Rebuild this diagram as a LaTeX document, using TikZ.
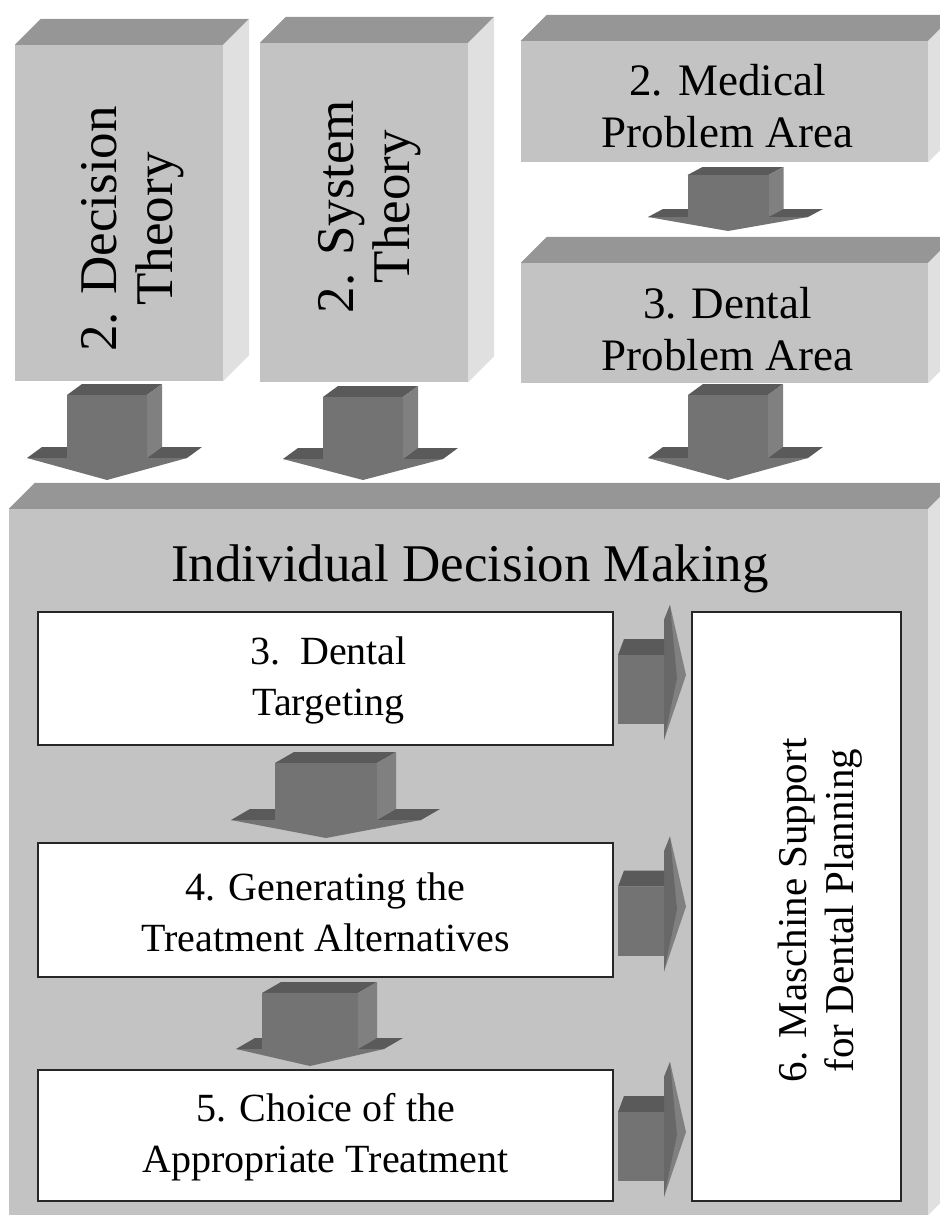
\documentclass[tikz,border=0pt]{standalone}
\usepackage{fontspec}
\setmainfont{Liberation Serif}
\definecolor{boxfront}{HTML}{C3C3C3}
\definecolor{boxtop}{HTML}{969696}
\definecolor{boxside}{HTML}{E0E0E0}
\definecolor{arrfront}{HTML}{737373}
\definecolor{arrtop}{HTML}{5A5A5A}
\definecolor{arrside}{HTML}{808080}
\newcommand\dep{26}
% side and top faces of a raised block whose front face is node #1
\newcommand\blockfaces[1]{%
  \fill[boxtop] (#1.north west) -- ++(\dep,-\dep) -- ([shift={(\dep,-\dep)}]#1.north east) -- (#1.north east) -- cycle;
  \fill[boxside] (#1.north east) -- ++(\dep,-\dep) -- ([shift={(\dep,-\dep)}]#1.south east) -- (#1.south east) -- cycle;
}
% downward block arrow: centre x, shaft top, shaft bottom, tip, shaft half width, head half width, depth x, depth y
\newcommand\blockdown[8]{%
  \fill[arrtop] ({#1-#6},#3) -- ++(#7,-#8) -- ({#1+#6+#7},{#3-#8}) -- ({#1+#6},#3) -- cycle;
  \fill[arrfront] ({#1-#6},#3) -- ({#1+#6},#3) -- (#1,#4) -- cycle;
  \fill[arrtop] ({#1-#5},#2) -- ++(#7,-#8) -- ({#1+#5+#7},{#2-#8}) -- ({#1+#5},#2) -- cycle;
  \fill[arrside] ({#1+#5},#2) -- ++(#7,-#8) -- ({#1+#5+#7},{#3-#8}) -- ({#1+#5},#3) -- cycle;
  \fill[arrfront] ({#1-#5},#2) rectangle ({#1+#5},#3);
}
% rightward block arrow, #1 = vertical offset
\newcommand\blockright[1]{%
  \begin{scope}[yshift={-(#1)*1pt}]
    \fill[arrside] (664,620) -- (670,605) -- (686,675) -- (664,740) -- cycle;
    \fill[arrfront!90!black] (664,620) -- (670,605) -- (677,678) -- (664,740) -- cycle;
    \fill[arrtop] (618,655) -- (624,639) -- (664,639) -- (664,655) -- cycle;
    \fill[arrfront] (618,655) rectangle (664,724);
  \end{scope}
}
\tikzset{
  block/.style={rectangle, fill=boxfront, inner sep=0pt, align=center, text=black},
  card/.style={rectangle, fill=white, draw=black!85, line width=1.2pt, inner sep=0pt, align=center},
  cardfont/.style={font=\fontsize{40}{51}\selectfont},
  bigfont/.style={font=\fontsize{45}{52}\selectfont},
  vertfont/.style={font=\fontsize{53}{56}\selectfont},
}
\begin{document}
\begin{tikzpicture}[x=1pt,y=-1pt]
\useasboundingbox (0,0) rectangle (940,1216);
\clip (0,0) rectangle (940,1216);

% upper blocks
\node[block, minimum width=208, minimum height=336] (dt) at (119,213) {};
\blockfaces{dt}
\node[vertfont, rotate=90, align=center] (dtt) at ([shift={(14,16)}]dt.center) {2. Decision\\Theory};

\node[block, minimum width=208, minimum height=339] (st) at (364,212.5) {};
\blockfaces{st}
\node[vertfont, rotate=90, align=center] (stt) at ([shift={(6,-6)}]st.center) {2. System\\Theory};

\node[block, minimum width=407, minimum height=121] (mp) at (724.5,101.5) {};
\blockfaces{mp}
\node[bigfont, align=center] (mpt) at ([shift={(3,5)}]mp.center) {2. Medical\\Problem Area};

\node[block, minimum width=407, minimum height=120] (dp) at (724.5,323) {};
\blockfaces{dp}
\node[bigfont, align=center] (dpt) at ([shift={(3,6)}]dp.center) {3. Dental\\Problem Area};

% main block
\node[block, minimum width=919, minimum height=706] (main) at (468.5,862) {};
\blockfaces{main}
\node[font=\fontsize{53}{60}\selectfont] (maint) at (470,569) {Individual Decision Making};

% steps
\node[card, minimum width=575, minimum height=133] (s3) at (325.5,678.5) {};
\node[cardfont, align=center] (s3t) at ([shift={(3,2)}]s3.center) {3.~~Dental\\Targeting};
\node[card, minimum width=575, minimum height=134] (s4) at (325.5,910) {};
\node[cardfont, align=center] (s4t) at ([shift={(0,2)}]s4.center) {4. Generating the\\Treatment Alternatives};
\node[card, minimum width=575, minimum height=131] (s5) at (325.5,1135.5) {};
\node[cardfont, align=center] (s5t) at ([shift={(0,2)}]s5.center) {5. Choice of the\\Appropriate Treatment};
\node[card, minimum width=209, minimum height=589] (s6) at (796.5,906.5) {};
\node[rotate=90, align=center, font=\fontsize{41}{47}\selectfont] (s6t) at ([shift={(24,4)}]s6.center) {6. Maschine Support\\for Dental Planning};

% arrows between the upper blocks and into the main block
\blockdown{728}{175}{217}{231}{40.5}{80}{15}{8}
\blockdown{107}{395}{458}{480}{40}{80}{15}{11}
\blockdown{363}{397}{459}{480}{40}{80}{15}{11}
\blockdown{728}{395}{458}{480}{40}{80}{15}{11}

% arrows between the steps
\blockdown{326}{763}{820}{838}{51}{95}{19}{11}
\blockdown{310}{993}{1049}{1066}{48}{74}{19}{11}

% arrows into the planning support
\blockright{0}
\blockright{231.5}
\blockright{457}
\end{tikzpicture}
\end{document}
